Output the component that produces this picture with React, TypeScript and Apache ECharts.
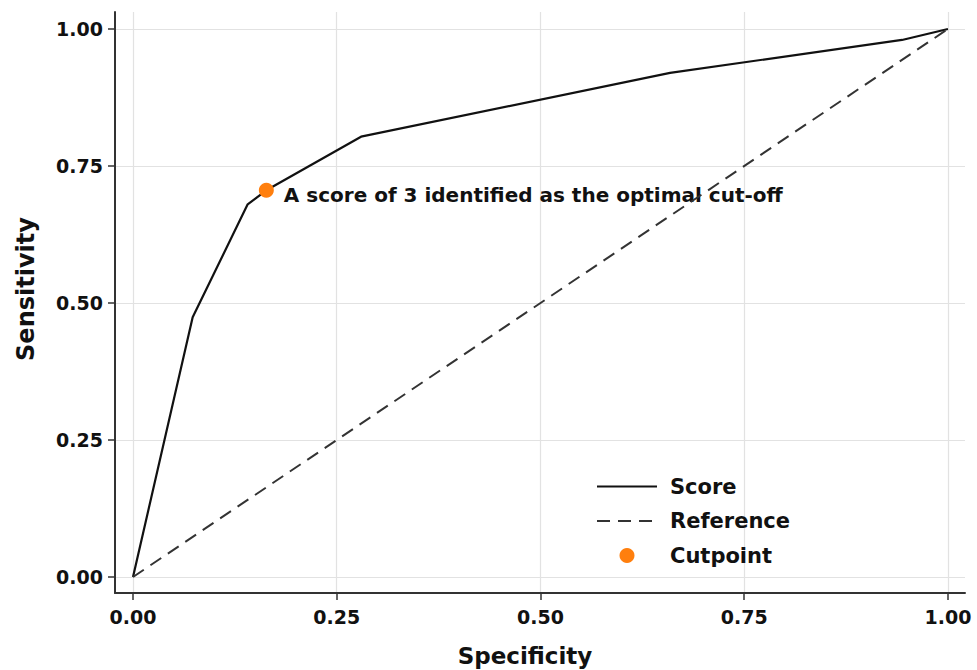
import React, { useEffect, useRef } from "react";
import * as echarts from "echarts";

const specificity = [0, 0.0732, 0.1407, 0.1636, 0.2798, 0.659, 0.9436, 1];
const sensitivity = [0, 0.474, 0.68, 0.7056, 0.8035, 0.92, 0.98, 1];
const referenceX = [0, 1];
const referenceY = [0, 1];
const cutpoint = [0.1636, 0.7056];
const tickValues = [0, 0.25, 0.5, 0.75, 1];
const annotation = "A score of 3 identified as the optimal cut-off";

const FONT = "'DejaVu Sans', Verdana, sans-serif";

export default function App() {
  const ref = useRef<HTMLDivElement>(null);
  useEffect(() => {
    if (!ref.current) return;
    const chart = echarts.init(ref.current, null, { renderer: "svg" });
    const fmt = (v: number) => v.toFixed(2);
    const axisCommon = {
      type: "value",
      axisLine: { show: true, onZero: false, lineStyle: { color: "#333", width: 2 } },
      axisTick: { show: true, customValues: tickValues, length: 7, lineStyle: { color: "#333", width: 1.5 } },
      axisLabel: {
        customValues: tickValues,
        formatter: fmt,
        color: "#111",
        fontFamily: FONT,
        fontWeight: "bold",
        fontSize: 19,
      },
      splitLine: { show: true, lineStyle: { color: "#e2e2e2", width: 1.2 } },
    };
    chart.setOption({
      animation: false,
      backgroundColor: "#fff",
      grid: { left: 115, right: 12, top: 12, bottom: 77 },
      xAxis: {
        ...axisCommon,
        min: -0.0221,
        max: 1.0209,
        axisLabel: { ...axisCommon.axisLabel, margin: 14 },
      },
      yAxis: {
        ...axisCommon,
        min: -0.0292,
        max: 1.031,
        axisLabel: { ...axisCommon.axisLabel, margin: 12 },
      },
      legend: {
        orient: "vertical",
        left: 591,
        top: 471,
        itemWidth: 60,
        itemHeight: 15,
        itemGap: 13.5,
        textStyle: { fontFamily: FONT, fontWeight: "bold", fontSize: 21, color: "#111", padding: [0, 0, 0, 8] },
        data: [
          { name: "Score", itemStyle: { opacity: 0 } },
          { name: "Reference", itemStyle: { opacity: 0 } },
          { name: "Cutpoint", icon: "circle" },
        ],
      },
      graphic: [
        {
          type: "text",
          x: 26,
          y: 289,
          rotation: Math.PI / 2,
          style: {
            text: "Sensitivity",
            fontFamily: FONT,
            fontWeight: "bold",
            fontSize: 24,
            fill: "#111",
            align: "center",
            verticalAlign: "middle",
          },
        },
        {
          type: "text",
          x: 525,
          y: 656,
          style: {
            text: "Specificity",
            fontFamily: FONT,
            fontWeight: "bold",
            fontSize: 23,
            fill: "#111",
            align: "center",
            verticalAlign: "middle",
          },
        },
      ],
      series: [
        {
          name: "Score",
          type: "line",
          data: specificity.map((x, i) => [x, sensitivity[i]]),
          symbol: "none",
          lineStyle: { color: "#111", width: 2.2 },
          itemStyle: { color: "#111" },
          z: 3,
        },
        {
          name: "Reference",
          type: "line",
          data: referenceX.map((x, i) => [x, referenceY[i]]),
          symbol: "none",
          lineStyle: { color: "#333", width: 2, type: [13, 8] },
          itemStyle: { color: "#333" },
          z: 6,
        },
        {
          name: "Cutpoint",
          type: "scatter",
          data: [cutpoint],
          symbol: "circle",
          symbolSize: 15,
          itemStyle: { color: "#ff7f0e", opacity: 1 },
          label: {
            show: true,
            position: "right",
            distance: 10,
            offset: [0, 5],
            formatter: annotation,
            fontFamily: FONT,
            fontWeight: "bold",
            fontSize: 20,
            color: "#111",
          },
          z: 5,
        },
      ],
    });
    return () => chart.dispose();
  }, []);
  return (
    <div
      ref={ref}
      style={{ position: "fixed", left: 0, top: 0, width: 977, height: 670 }}
    />
  );
}
